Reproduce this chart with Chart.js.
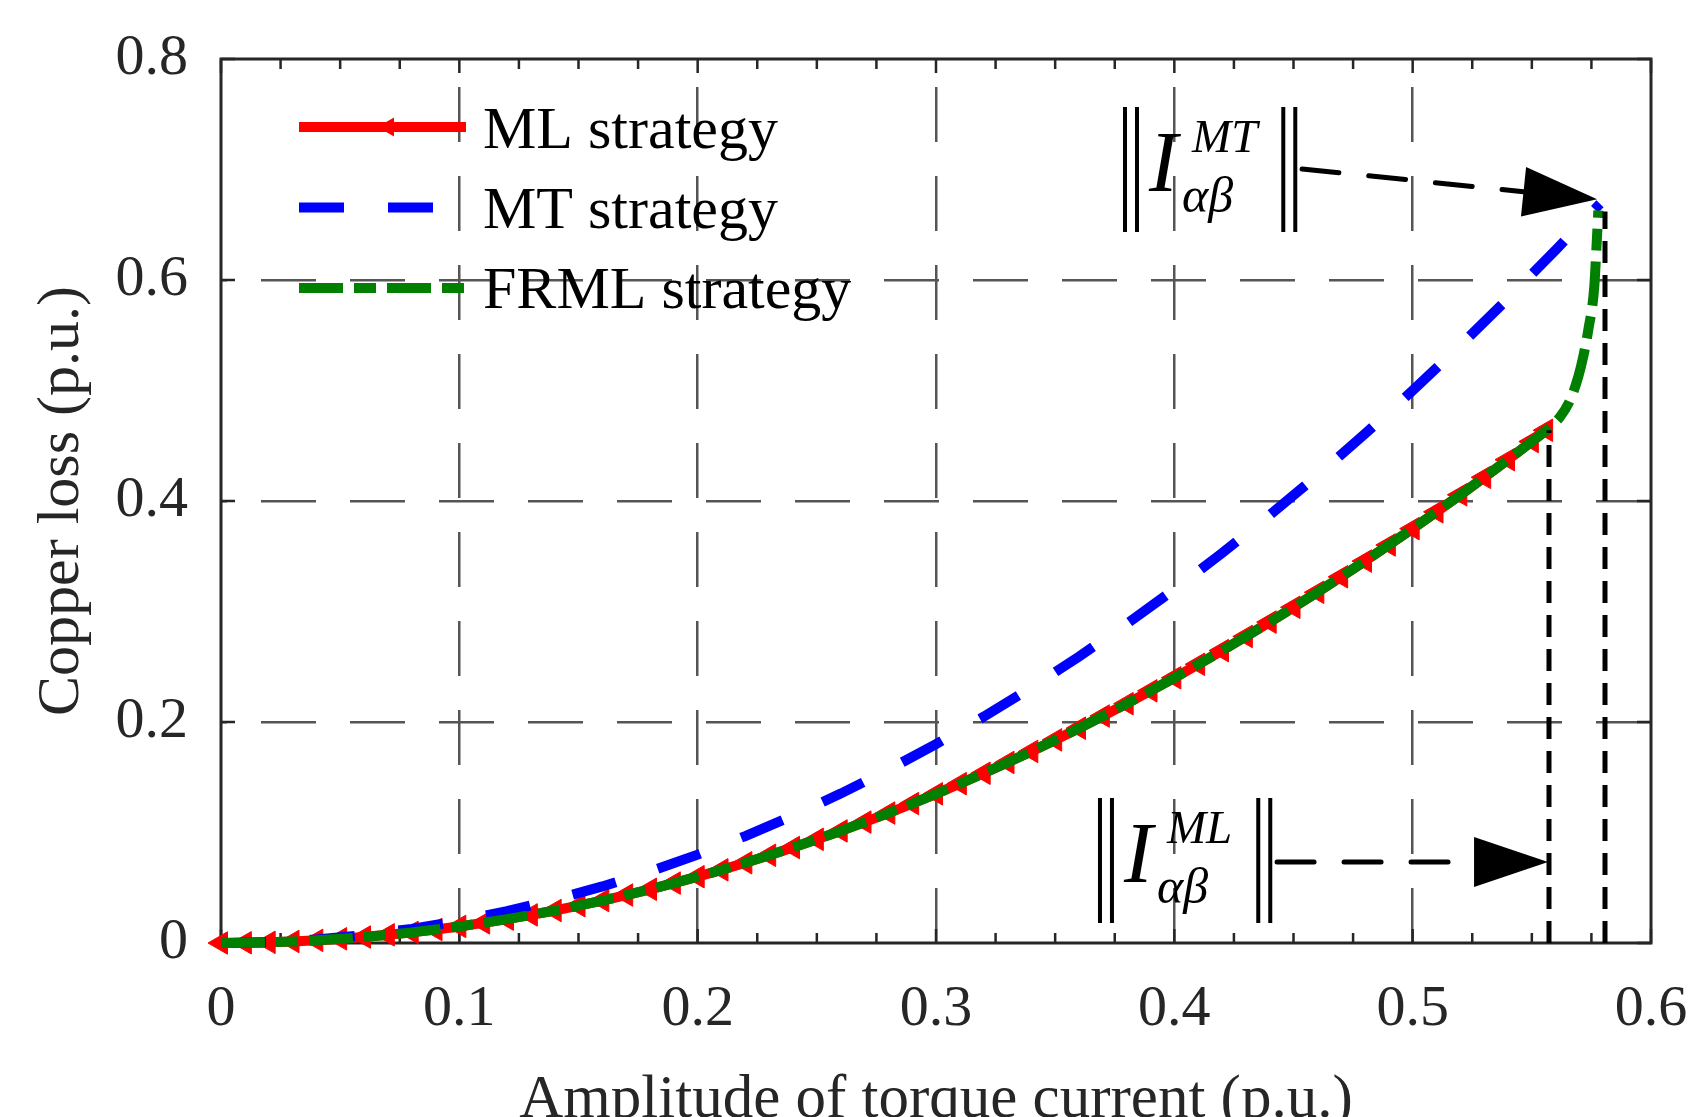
<!DOCTYPE html>
<html>
<head>
<meta charset="utf-8">
<title>Copper loss vs torque current</title>
<script src="https://cdn.jsdelivr.net/npm/chart.js@4.4.1/dist/chart.umd.min.js"></script>
<style>
  html, body { margin: 0; padding: 0; background: #fff; }
  #wrap { width: 1689px; height: 1117px; }
</style>
</head>
<body>
<div id="wrap"><canvas id="lossChart" width="1689" height="1117"></canvas></div>
<script>
// values
const mlX = [0, 0.01, 0.02, 0.03, 0.04, 0.05, 0.06, 0.07, 0.08, 0.09, 0.10, 0.11, 0.12, 0.13, 0.14,
  0.15, 0.16, 0.17, 0.18, 0.19, 0.20, 0.21, 0.22, 0.23, 0.24, 0.25, 0.26, 0.27, 0.28, 0.29, 0.30,
  0.31, 0.32, 0.33, 0.34, 0.35, 0.36, 0.37, 0.38, 0.39, 0.40, 0.41, 0.42, 0.43, 0.44, 0.45, 0.46,
  0.47, 0.48, 0.49, 0.50, 0.51, 0.52, 0.53, 0.54, 0.55, 0.556];
const mlY = [0, 0.0002, 0.0006, 0.0014, 0.0024, 0.0038, 0.0054, 0.0074, 0.0096, 0.0122, 0.015,
  0.0182, 0.0216, 0.0254, 0.0294, 0.0338, 0.0384, 0.0434, 0.0486, 0.0542, 0.060, 0.0662, 0.0726,
  0.0794, 0.0864, 0.0938, 0.1014, 0.1094, 0.1176, 0.1262, 0.135, 0.1442, 0.1536, 0.1634, 0.1734,
  0.1838, 0.1944, 0.2054, 0.2166, 0.2282, 0.240, 0.2522, 0.2646, 0.2774, 0.2904, 0.3038, 0.3174,
  0.3314, 0.3456, 0.3602, 0.375, 0.3902, 0.4056, 0.4214, 0.4374, 0.4538, 0.464];

const mtX = [0, 0.02, 0.04, 0.06, 0.08, 0.10, 0.12, 0.14, 0.16, 0.18, 0.20, 0.22, 0.24, 0.26, 0.28,
  0.30, 0.32, 0.34, 0.36, 0.38, 0.40, 0.42, 0.44, 0.46, 0.48, 0.50, 0.52, 0.54, 0.56, 0.5786];
const mtY = [0, 0.0008, 0.0032, 0.0072, 0.0128, 0.02, 0.0288, 0.0392, 0.0512, 0.0648, 0.08, 0.0968,
  0.1152, 0.1352, 0.1568, 0.18, 0.2048, 0.2312, 0.2592, 0.2888, 0.32, 0.3528, 0.3872, 0.4232,
  0.4608, 0.5, 0.5408, 0.5832, 0.6272, 0.669];

// FRML follows ML, then bends up to the MT end point
const frmlTailX = [0.5576, 0.5618, 0.566, 0.5695, 0.5716, 0.5737, 0.5762, 0.5772, 0.5779];
const frmlTailY = [0.467, 0.476, 0.491, 0.5125, 0.531, 0.555, 0.594, 0.633, 0.663];
const frmlX = mlX.concat(frmlTailX);
const frmlY = mlY.concat(frmlTailY);

// current limits (dotted verticals)
const mlLimit = [0.5572, 0.464];
const mtLimit = [0.5807, 0.662];

const seriesNames = ['ML strategy', 'MT strategy', 'FRML strategy'];
const xTicks = [0, 0.1, 0.2, 0.3, 0.4, 0.5, 0.6];
const yTicks = [0, 0.2, 0.4, 0.6, 0.8];

const serif = "'Liberation Serif', 'Times New Roman', serif";
const axisInk = '#262626';
const gridInk = '#555555';

function pts(xs, ys) {
  return xs.map((x, i) => ({ x: x, y: ys[i] }));
}
function fmt(v) {
  return String(Number(v.toFixed(2)));
}
function isEdge(v, lo, hi) {
  return Math.abs(v - lo) < 1e-9 || Math.abs(v - hi) < 1e-9;
}

// axes box with inward ticks
const framePlugin = {
  id: 'frame',
  beforeDatasetsDraw(chart) {
    const { ctx, chartArea: a, scales: { x, y } } = chart;
    ctx.save();
    ctx.strokeStyle = axisInk;
    ctx.lineWidth = 3;
    ctx.setLineDash([]);
    ctx.strokeRect(a.left, a.top, a.right - a.left, a.bottom - a.top);
    ctx.lineWidth = 2.5;
    ctx.beginPath();
    for (let i = 0; i <= 24; i++) {
      const px = x.getPixelForValue(i * 0.025);
      const len = i % 4 === 0 ? 14 : 10;
      ctx.moveTo(px, a.bottom); ctx.lineTo(px, a.bottom - len);
      ctx.moveTo(px, a.top); ctx.lineTo(px, a.top + len);
    }
    yTicks.forEach(v => {
      const py = y.getPixelForValue(v);
      ctx.moveTo(a.left, py); ctx.lineTo(a.left + 14, py);
      ctx.moveTo(a.right, py); ctx.lineTo(a.right - 14, py);
    });
    ctx.stroke();
    ctx.restore();
  }
};

function drawArrow(ctx, x1, y1, x2, y2) {
  const headLen = 74, headHalf = 25;
  const d = Math.hypot(x2 - x1, y2 - y1);
  const ux = (x2 - x1) / d, uy = (y2 - y1) / d;
  const bx = x2 - ux * headLen, by = y2 - uy * headLen;
  ctx.save();
  ctx.strokeStyle = '#000';
  ctx.lineWidth = 5;
  ctx.lineCap = 'round';
  ctx.setLineDash([37, 30]);
  ctx.beginPath();
  ctx.moveTo(x1, y1);
  ctx.lineTo(bx, by);
  ctx.stroke();
  ctx.setLineDash([]);
  ctx.fillStyle = '#000';
  ctx.beginPath();
  ctx.moveTo(x2, y2);
  ctx.lineTo(bx - uy * headHalf, by + ux * headHalf);
  ctx.lineTo(bx + uy * headHalf, by - ux * headHalf);
  ctx.closePath();
  ctx.fill();
  ctx.restore();
}

function drawNorm(ctx, x, top, sup) {
  ctx.save();
  ctx.fillStyle = '#000';
  ctx.textBaseline = 'alphabetic';
  ctx.textAlign = 'left';
  ctx.font = 'italic 86px ' + serif;
  ctx.fillText('I', x + 24, top + 84);
  ctx.font = 'italic 47px ' + serif;
  ctx.fillText(sup, x + 67, top + 45);
  const supW = ctx.measureText(sup).width;
  ctx.font = 'italic 50px ' + serif;
  ctx.fillText('\u03b1\u03b2', x + 57, top + 105);
  const rb = x + 67 + supW + 26;
  ctx.strokeStyle = '#000';
  ctx.lineWidth = 4;
  ctx.beginPath();
  [x, x + 12, rb, rb + 12].forEach(bx => {
    ctx.moveTo(bx, top); ctx.lineTo(bx, top + 125);
  });
  ctx.stroke();
  ctx.restore();
}

const notePlugin = {
  id: 'notes',
  afterDatasetsDraw(chart) {
    const { ctx, chartArea: a, scales: { x, y } } = chart;
    const P = (vx, vy) => [x.getPixelForValue(vx), y.getPixelForValue(vy)];

    // norm labels and arrows
    let p = P(0.3793, 0.7566);
    drawNorm(ctx, p[0], p[1], 'MT');
    let t = P(0.4536, 0.7005), h = P(0.5774, 0.673);
    drawArrow(ctx, t[0], t[1], h[0], h[1]);

    p = P(0.3688, 0.1312);
    drawNorm(ctx, p[0], p[1], 'ML');
    t = P(0.4431, 0.0733); h = P(0.5568, 0.0733);
    drawArrow(ctx, t[0], t[1], h[0], h[1]);

    // legend
    const ds = chart.data.datasets;
    ctx.save();
    for (let i = 0; i < 3; i++) {
      const d = ds[i];
      const ly = a.top + 68 + 80.5 * i;
      const x0 = a.left + 78, x1 = a.left + 245;
      ctx.strokeStyle = d.borderColor;
      ctx.lineWidth = d.borderWidth;
      ctx.setLineDash(d.borderDash || []);
      ctx.lineDashOffset = 0;
      ctx.beginPath();
      ctx.moveTo(x0, ly);
      ctx.lineTo(x1, ly);
      ctx.stroke();
      ctx.setLineDash([]);
      if (d.pointRadius > 0) {
        const r = 11, cx = (x0 + x1) / 2 + 6;
        ctx.fillStyle = d.pointBackgroundColor;
        ctx.beginPath();
        ctx.moveTo(cx - r, ly);
        ctx.lineTo(cx + r / 2, ly - r * 0.866);
        ctx.lineTo(cx + r / 2, ly + r * 0.866);
        ctx.closePath();
        ctx.fill();
      }
      ctx.fillStyle = '#000';
      ctx.font = '60px ' + serif;
      ctx.textBaseline = 'alphabetic';
      ctx.fillText(seriesNames[i], a.left + 262, a.top + 89 + 80 * i);
    }
    ctx.restore();
  }
};

const ctx = document.getElementById('lossChart').getContext('2d');
const lossChart = new Chart(ctx, {
  type: 'line',
  data: {
    datasets: [
      {
        label: seriesNames[0],
        data: pts(mlX, mlY),
        borderColor: '#ff0000',
        borderWidth: 10,
        pointStyle: 'triangle',
        pointRotation: -90,
        pointRadius: 13,
        pointBackgroundColor: '#ff0000',
        pointBorderColor: '#ff0000',
        pointBorderWidth: 1,
        tension: 0,
        clip: false,
        order: 2
      },
      {
        label: seriesNames[1],
        data: pts(mtX, mtY),
        borderColor: '#0000ff',
        borderWidth: 10,
        borderDash: [45, 44],
        pointRadius: 0,
        tension: 0,
        clip: false,
        order: 1
      },
      {
        label: seriesNames[2],
        data: pts(frmlX, frmlY),
        borderColor: '#007f00',
        borderWidth: 10,
        borderDash: [44, 11, 22, 11],
        pointRadius: 0,
        cubicInterpolationMode: 'monotone',
        clip: false,
        order: 0
      },
      {
        label: 'ML limit',
        data: [{ x: mlLimit[0], y: 0 }, { x: mlLimit[0], y: mlLimit[1] }],
        borderColor: '#000',
        borderWidth: 5,
        borderDash: [22, 12],
        pointRadius: 0,
        clip: false,
        order: -1
      },
      {
        label: 'MT limit',
        data: [{ x: mtLimit[0], y: 0 }, { x: mtLimit[0], y: mtLimit[1] }],
        borderColor: '#000',
        borderWidth: 5,
        borderDash: [22, 12],
        pointRadius: 0,
        clip: false,
        order: -1
      }
    ]
  },
  options: {
    responsive: false,
    animation: false,
    devicePixelRatio: 1,
    layout: { padding: { top: 59, right: 38, left: 0, bottom: 0 } },
    plugins: {
      legend: { display: false },
      tooltip: { enabled: false }
    },
    scales: {
      x: {
        type: 'linear',
        min: 0,
        max: 0.6,
        afterBuildTicks: s => { s.ticks = xTicks.map(v => ({ value: v })); },
        afterFit: s => { s.height = 174; },
        ticks: {
          padding: 0,
          color: axisInk,
          maxRotation: 0,
          autoSkip: false,
          font: { family: serif, size: 58 },
          callback: v => fmt(v)
        },
        grid: {
          color: c => isEdge(c.tick.value, 0, 0.6) ? 'rgba(0,0,0,0)' : gridInk,
          lineWidth: 2.5,
          drawTicks: true,
          tickLength: 32,
          tickWidth: 0
        },
        border: { display: false, dash: [55, 34], dashOffset: 61 },
        title: {
          display: true,
          text: 'Amplitude of torque current (p.u.)',
          color: axisInk,
          font: { family: serif, size: 61 },
          padding: { top: 0, bottom: -21 }
        }
      },
      y: {
        type: 'linear',
        min: 0,
        max: 0.8,
        afterBuildTicks: s => { s.ticks = yTicks.map(v => ({ value: v })); },
        afterFit: s => { s.width = 221; },
        ticks: {
          padding: 0,
          color: axisInk,
          font: { family: serif, size: 58 },
          callback: v => fmt(v)
        },
        grid: {
          color: c => isEdge(c.tick.value, 0, 0.8) ? 'rgba(0,0,0,0)' : gridInk,
          lineWidth: 2.5,
          drawTicks: true,
          tickLength: 33,
          tickWidth: 0
        },
        border: { display: false, dash: [55, 34], dashOffset: 49 },
        title: {
          display: true,
          text: 'Copper loss (p.u.)',
          color: axisInk,
          font: { family: serif, size: 60 },
          padding: { top: 26, bottom: 0 }
        }
      }
    }
  },
  plugins: [framePlugin, notePlugin]
});
</script>
</body>
</html>
